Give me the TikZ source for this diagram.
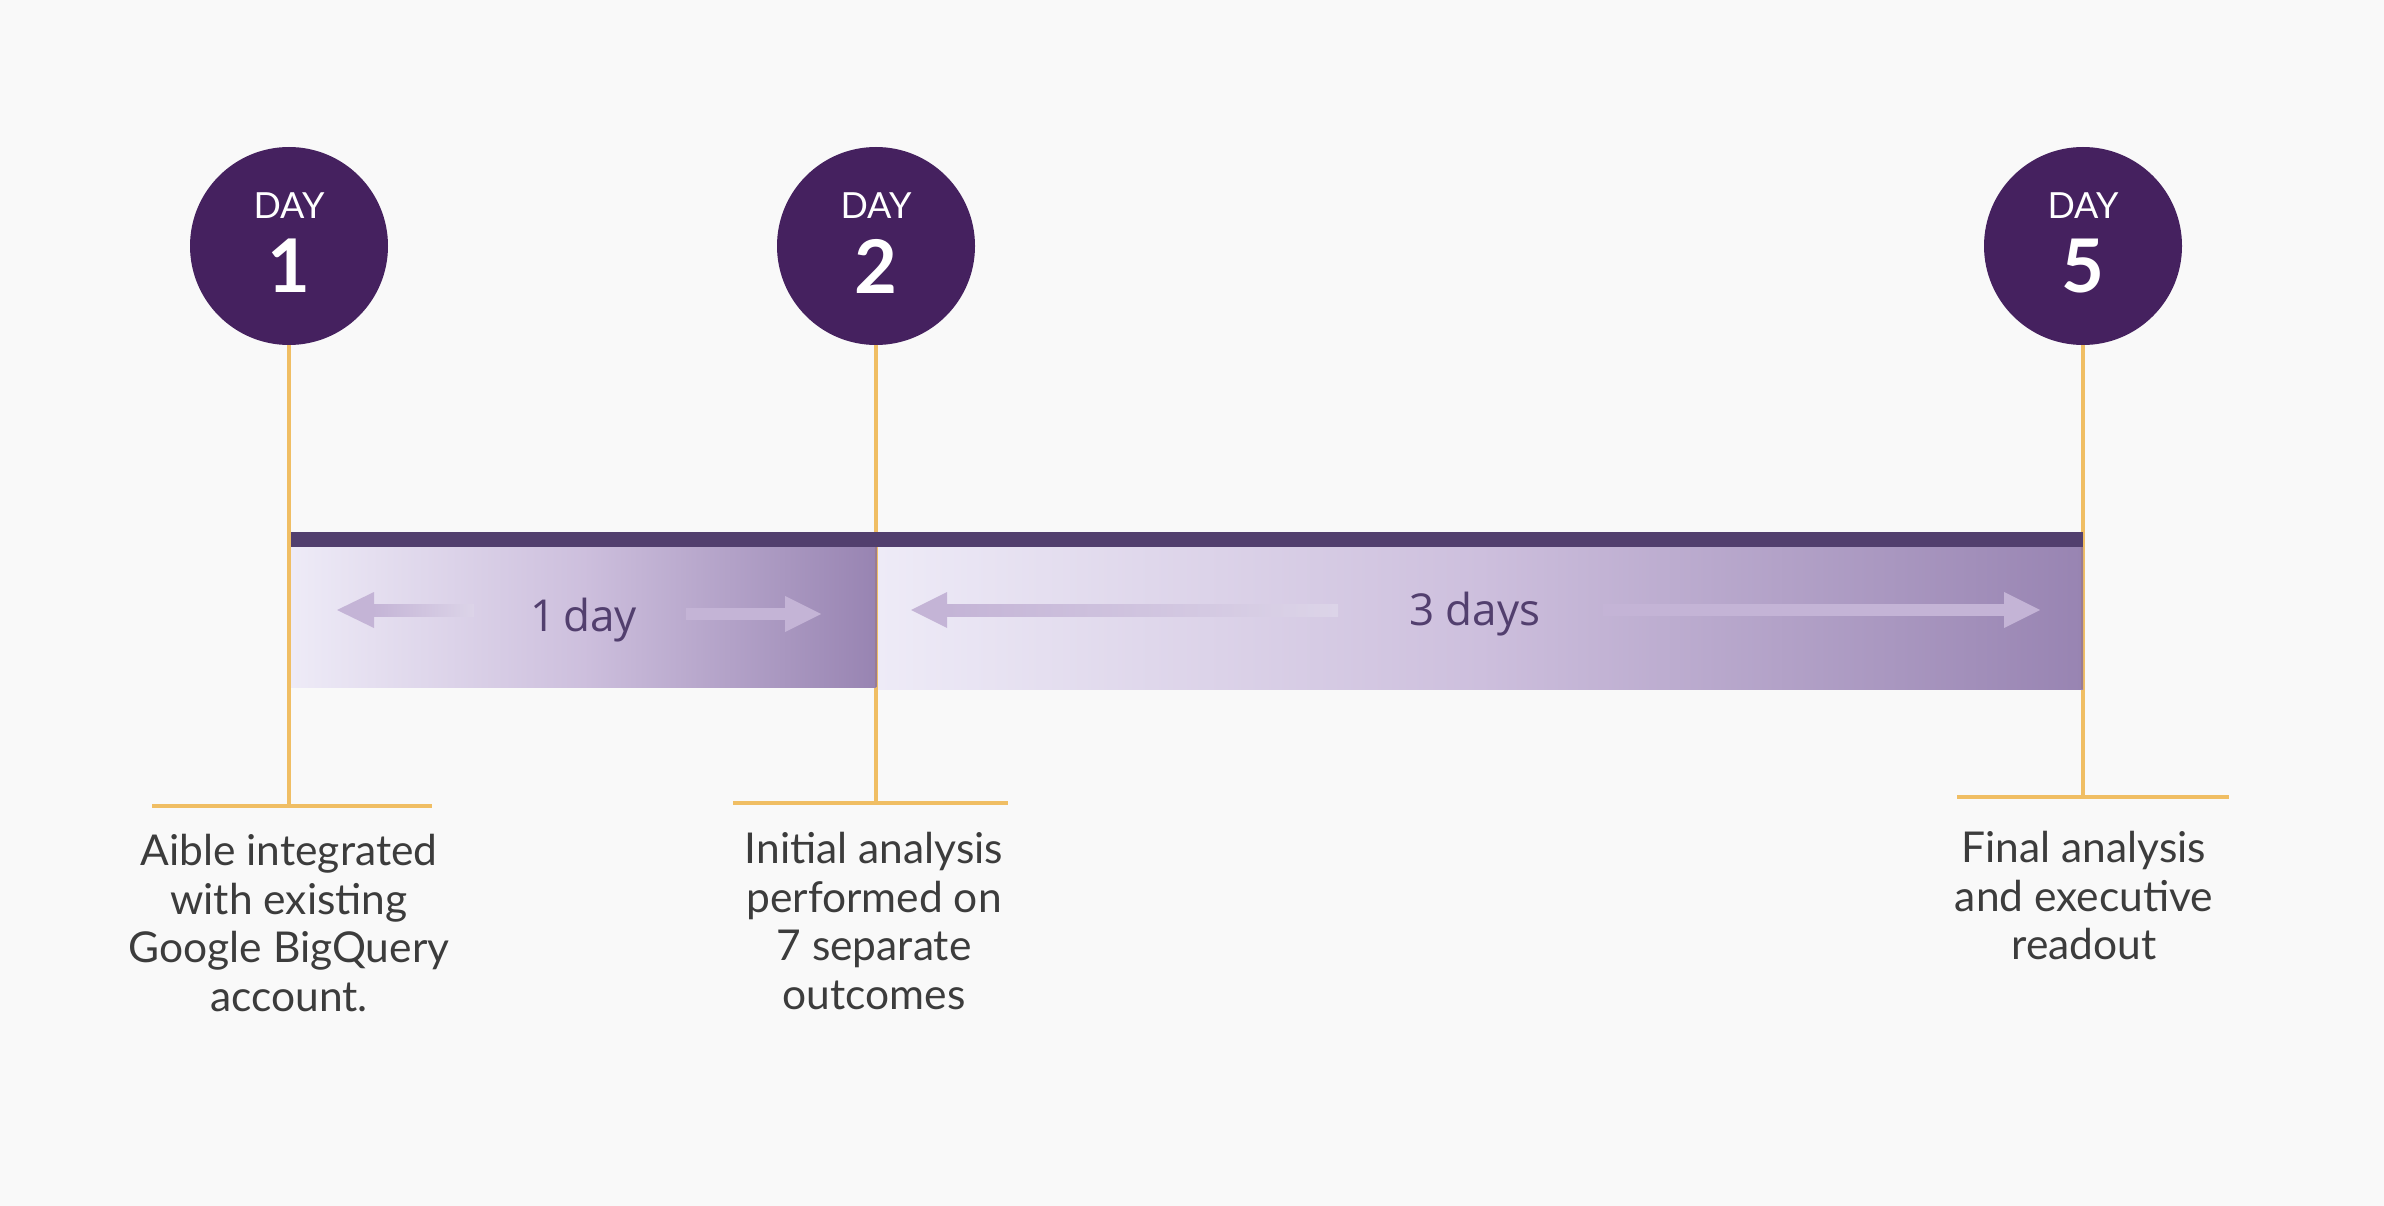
\documentclass[tikz,border=0pt]{standalone}
\usepackage{fontspec}
\setmainfont{Lato}
\newfontfamily\durfont{Open Sans}
\definecolor{bgc}{HTML}{F9F9F9}
\definecolor{circc}{HTML}{45215F}
\definecolor{bandc}{HTML}{523F6E}
\definecolor{gradl}{HTML}{EEEBF7}
\definecolor{gradm}{HTML}{CDBFDD}
\definecolor{gradr}{HTML}{9884B2}
\definecolor{linec}{HTML}{F0BE64}
\definecolor{edgec}{HTML}{9A7C92}
\definecolor{arrc}{HTML}{C4B4D6}
\definecolor{arrl}{HTML}{DCD4E8}
\definecolor{txtc}{HTML}{3C3C3C}
\definecolor{durc}{HTML}{523F6E}
\begin{document}
\begin{tikzpicture}[x=1pt,y=-1pt,
  daycirc/.style={circle,fill=circc,minimum size=198pt,inner sep=0pt},
  daylab/.style={text=white,font=\fontsize{36}{40}\selectfont,inner sep=0pt},
  daynum/.style={text=white,font=\bfseries\fontsize{74}{80}\selectfont,inner sep=0pt},
  tick/.style={draw=linec,line width=4pt},
  desc/.style={text=txtc,align=center,font=\fontsize{42.5}{48.6}\selectfont,inner sep=0pt,anchor=north},
  dur/.style={text=durc,font=\durfont\fontsize{44}{48}\selectfont,inner sep=0pt},
  arrfill/.style={fill=arrc}
]
\useasboundingbox (0,0) rectangle (2384,1206);
\fill[bgc] (0,0) rectangle (2384,1206);

% circles
\node[daycirc] (c1) at (289,246) {};
\node[daycirc] (c2) at (876,246) {};
\node[daycirc] (c5) at (2083,246) {};
\node[daylab] (d1) at (289,206) {DAY};
\node[daylab] (d2) at (876,206) {DAY};
\node[daylab] (d5) at (2083,206) {DAY};
\node[daynum] (n1) at (289,266) {1};
\node[daynum] (n2) at (876,266) {2};
\node[daynum] (n5) at (2083,266) {5};

% ticks
\coordinate (b1) at (289,806);
\coordinate (b2) at (876,803);
\coordinate (b5) at (2083,797);
\coordinate (h1l) at (152,806); \coordinate (h1r) at (432,806);
\coordinate (h2l) at (733,803); \coordinate (h2r) at (1008,803);
\coordinate (h5l) at (1957,797); \coordinate (h5r) at (2229,797);
\draw[tick] (c1.south) -- (b1);
\draw[tick] (c2.south) -- (b2);
\draw[tick] (c5.south) -- (b5);
\draw[tick] (h1l) -- (h1r);
\draw[tick] (h2l) -- (h2r);
\draw[tick] (h5l) -- (h5r);

% bar
\shade[left color=gradl,right color=gradr,middle color=gradm] (291,547) rectangle (876,687);
\shade[left color=gradl,right color=gradr,middle color=gradm] (878,547) rectangle (2083,689);
\fill[bandc] (291,532) rectangle (2083,547);
\draw[edgec,line width=2pt] (876,547) -- (876,687);
\draw[edgec,line width=2pt] (2082,547) -- (2082,689);

% arrows segment 1
\fill[arrfill] (337,610) -- (374,592) -- (374,628) -- cycle;
\shade[left color=arrc,right color=arrl] (373,604) rectangle (474,616);
\fill[arrfill] (686,608) rectangle (786,620);
\fill[arrfill] (821,614) -- (785,596) -- (785,632) -- cycle;
\node[dur] (t1) at (584,620) {1\,day};

% arrows segment 2
\fill[arrfill] (911,610) -- (947,592) -- (947,628) -- cycle;
\shade[left color=arrc,right color=arrl] (946,604) rectangle (1338,616);
\fill[arrfill] (1603,604) rectangle (2005,616);
\fill[arrfill] (2040,610) -- (2004,592) -- (2004,628) -- cycle;
\node[dur] (t2) at (1475,614) {3 days};

% descriptions
\node[desc] (x1) at (289,834) {Aible integrated\\with existing\\Google BigQuery\\account.};
\node[desc] (x2) at (874,832) {Initial analysis\\performed on\\7 separate\\outcomes};
\node[desc] (x5) at (2084,831) {Final analysis\\and executive\\readout};
\end{tikzpicture}
\end{document}
